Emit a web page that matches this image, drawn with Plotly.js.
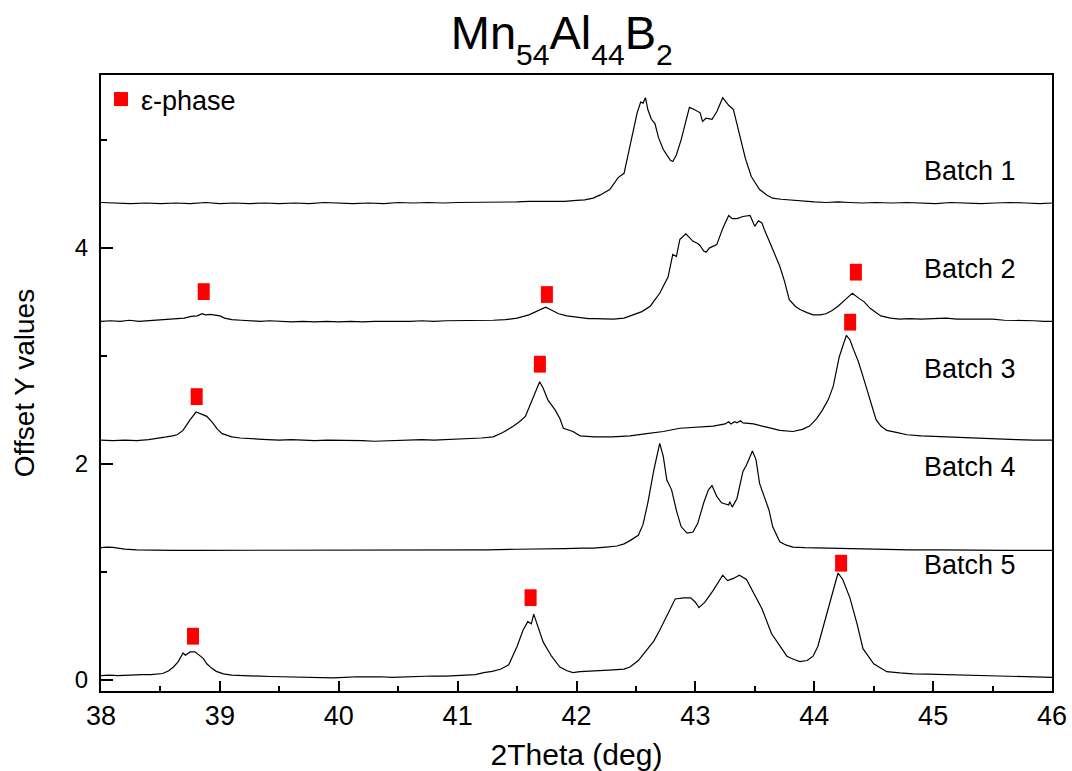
<!DOCTYPE html>
<html>
<head>
<meta charset="utf-8">
<script src="https://cdn.plot.ly/plotly-3.0.1.min.js"></script>
<style>html,body{margin:0;padding:0;background:#fff;}#chart{width:1072px;height:771px;}</style>
</head>
<body>
<div id="chart"></div>
<script>
// ---- data ----
const batchNames = ["Batch 1", "Batch 2", "Batch 3", "Batch 4", "Batch 5"];

const b1x = [38.0,38.12,38.25,38.38,38.5,38.63,38.75,38.88,39.0,39.12,39.25,39.38,39.5,39.63,39.75,39.88,40.0,40.12,40.25,40.38,40.5,40.63,40.75,40.88,41.0,41.12,41.25,41.38,41.5,41.6,41.7,41.8,41.9,42.0,42.07,42.14,42.2,42.28,42.35,42.4,42.45,42.51,42.54,42.56,42.58,42.6,42.63,42.66,42.69,42.73,42.76,42.79,42.81,42.84,42.88,42.91,42.95,42.99,43.04,43.06,43.09,43.14,43.18,43.23,43.28,43.32,43.36,43.42,43.47,43.54,43.6,43.65,43.72,43.82,43.92,44.0,44.1,44.2,44.3,44.4,44.52,44.65,44.78,44.9,45.02,45.15,45.28,45.4,45.52,45.65,45.78,45.9,46.0];
const b1y = [4.42,4.415,4.41,4.415,4.41,4.415,4.41,4.42,4.41,4.415,4.41,4.415,4.41,4.415,4.41,4.42,4.415,4.41,4.415,4.41,4.42,4.415,4.42,4.415,4.42,4.42,4.425,4.42,4.425,4.43,4.43,4.435,4.43,4.44,4.445,4.46,4.49,4.54,4.65,4.69,4.94,5.25,5.35,5.34,5.39,5.28,5.19,5.15,5.02,4.91,4.86,4.81,4.8,4.86,5.0,5.14,5.3,5.28,5.25,5.17,5.2,5.19,5.26,5.39,5.32,5.28,5.09,4.83,4.66,4.54,4.49,4.46,4.45,4.44,4.43,4.425,4.42,4.425,4.42,4.415,4.42,4.415,4.42,4.415,4.41,4.42,4.415,4.41,4.415,4.42,4.415,4.41,4.415];

const b2x = [38.0,38.08,38.16,38.24,38.32,38.4,38.48,38.56,38.64,38.7,38.76,38.81,38.85,38.88,38.92,38.96,39.0,39.04,39.1,39.18,39.26,39.34,39.42,39.5,39.6,39.7,39.8,39.9,40.0,40.1,40.2,40.3,40.4,40.5,40.6,40.7,40.8,40.9,41.0,41.1,41.2,41.3,41.4,41.5,41.6,41.66,41.7,41.74,41.78,41.82,41.85,41.92,41.98,42.03,42.1,42.15,42.22,42.31,42.4,42.48,42.55,42.62,42.7,42.77,42.81,42.84,42.87,42.92,42.95,42.98,43.02,43.04,43.07,43.09,43.12,43.18,43.23,43.28,43.31,43.35,43.4,43.46,43.5,43.53,43.56,43.58,43.63,43.71,43.75,43.79,43.84,43.88,43.94,43.99,44.05,44.1,44.15,44.2,44.27,44.32,44.38,44.42,44.47,44.52,44.56,44.64,44.72,44.8,44.9,45.0,45.11,45.2,45.3,45.4,45.5,45.6,45.67,45.76,45.85,45.93,46.0];
const b2y = [3.32,3.325,3.32,3.33,3.32,3.325,3.33,3.335,3.345,3.35,3.365,3.37,3.39,3.38,3.385,3.375,3.37,3.35,3.335,3.33,3.325,3.32,3.325,3.32,3.315,3.32,3.315,3.32,3.315,3.32,3.315,3.32,3.32,3.315,3.32,3.325,3.32,3.325,3.325,3.33,3.325,3.33,3.335,3.35,3.38,3.41,3.43,3.45,3.43,3.41,3.39,3.37,3.36,3.35,3.345,3.345,3.34,3.34,3.35,3.38,3.41,3.46,3.58,3.73,3.94,3.92,4.08,4.13,4.09,4.06,4.04,4.02,3.97,3.96,4.0,4.03,4.18,4.3,4.27,4.27,4.29,4.3,4.2,4.25,4.23,4.17,4.04,3.83,3.69,3.52,3.46,3.43,3.4,3.38,3.38,3.39,3.42,3.46,3.53,3.58,3.53,3.5,3.44,3.4,3.37,3.35,3.34,3.345,3.34,3.345,3.35,3.34,3.34,3.335,3.34,3.33,3.33,3.325,3.325,3.32,3.32];

const b3x = [38.0,38.1,38.2,38.3,38.4,38.48,38.55,38.6,38.64,38.69,38.75,38.8,38.84,38.89,38.94,38.98,39.02,39.1,39.17,39.28,39.4,39.5,39.6,39.7,39.8,39.9,40.0,40.1,40.2,40.3,40.4,40.5,40.6,40.7,40.8,40.9,41.0,41.1,41.2,41.3,41.38,41.47,41.52,41.57,41.64,41.69,41.72,41.76,41.82,41.86,41.89,41.97,42.03,42.15,42.3,42.45,42.59,42.73,42.87,43.0,43.15,43.25,43.28,43.3,43.33,43.35,43.38,43.4,43.49,43.6,43.71,43.82,43.9,43.96,44.02,44.07,44.12,44.16,44.21,44.27,44.3,44.33,44.37,44.41,44.47,44.52,44.56,44.61,44.7,44.78,44.9,45.0,45.11,45.25,45.4,45.55,45.7,45.85,46.0];
const b3y = [2.22,2.215,2.22,2.215,2.225,2.235,2.25,2.26,2.27,2.31,2.41,2.48,2.46,2.44,2.38,2.32,2.28,2.25,2.24,2.23,2.225,2.22,2.225,2.22,2.215,2.22,2.22,2.215,2.215,2.21,2.215,2.22,2.22,2.225,2.22,2.225,2.23,2.23,2.24,2.25,2.29,2.35,2.39,2.44,2.62,2.76,2.7,2.59,2.5,2.42,2.33,2.3,2.26,2.25,2.25,2.26,2.28,2.3,2.33,2.34,2.35,2.37,2.39,2.37,2.39,2.38,2.4,2.38,2.37,2.34,2.31,2.3,2.32,2.35,2.42,2.5,2.6,2.72,2.99,3.19,3.15,3.06,2.95,2.81,2.59,2.41,2.35,2.31,2.29,2.27,2.26,2.255,2.25,2.245,2.24,2.23,2.225,2.22,2.22];

const b4x = [38.0,38.05,38.1,38.15,38.2,38.3,38.45,38.6,38.8,39.0,39.25,39.5,39.75,40.0,40.25,40.5,40.75,41.0,41.25,41.5,41.7,41.9,42.05,42.14,42.25,42.34,42.4,42.45,42.52,42.56,42.6,42.65,42.7,42.73,42.76,42.8,42.84,42.88,42.93,42.98,43.02,43.07,43.11,43.14,43.18,43.22,43.28,43.29,43.31,43.35,43.4,43.43,43.48,43.51,43.54,43.58,43.62,43.65,43.71,43.76,43.82,43.92,44.1,44.38,44.6,44.8,45.05,45.3,45.6,46.0];
const b4y = [1.225,1.23,1.228,1.22,1.212,1.205,1.2,1.2,1.2,1.2,1.2,1.2,1.2,1.2,1.2,1.205,1.2,1.205,1.205,1.21,1.21,1.215,1.22,1.22,1.23,1.24,1.26,1.29,1.34,1.44,1.64,1.94,2.19,2.07,1.85,1.76,1.57,1.42,1.36,1.37,1.45,1.64,1.76,1.8,1.7,1.64,1.62,1.65,1.6,1.68,1.93,1.99,2.12,2.04,1.82,1.7,1.57,1.42,1.28,1.25,1.23,1.225,1.22,1.21,1.21,1.205,1.205,1.2,1.2,1.2];

const b5x = [38.0,38.07,38.14,38.21,38.28,38.35,38.42,38.48,38.52,38.57,38.61,38.65,38.69,38.71,38.75,38.79,38.83,38.86,38.89,38.93,38.97,39.03,39.1,39.18,39.26,39.34,39.42,39.5,39.6,39.7,39.8,39.9,39.95,40.05,40.15,40.25,40.35,40.45,40.55,40.65,40.79,40.9,41.0,41.08,41.15,41.22,41.29,41.36,41.43,41.5,41.55,41.59,41.62,41.64,41.68,41.72,41.79,41.86,41.92,41.97,42.03,42.1,42.2,42.31,42.4,42.45,42.52,42.59,42.65,42.7,42.76,42.83,42.9,42.96,43.0,43.03,43.08,43.15,43.23,43.27,43.32,43.37,43.43,43.49,43.56,43.64,43.71,43.77,43.83,43.88,43.94,43.99,44.03,44.1,44.16,44.2,44.24,44.27,44.3,44.36,44.41,44.5,44.61,44.72,44.83,44.95,45.1,45.25,45.39,45.55,45.7,45.85,46.0];
const b5y = [0.04,0.045,0.04,0.045,0.045,0.05,0.05,0.055,0.06,0.085,0.12,0.17,0.25,0.23,0.26,0.26,0.23,0.2,0.15,0.11,0.08,0.056,0.045,0.04,0.038,0.035,0.032,0.03,0.03,0.025,0.027,0.02,0.02,0.025,0.03,0.028,0.03,0.025,0.03,0.033,0.037,0.035,0.04,0.046,0.05,0.068,0.08,0.099,0.14,0.31,0.46,0.54,0.52,0.61,0.49,0.35,0.22,0.12,0.085,0.068,0.077,0.08,0.085,0.093,0.1,0.12,0.18,0.28,0.36,0.46,0.6,0.75,0.76,0.76,0.72,0.67,0.72,0.83,0.97,0.92,0.94,0.97,0.93,0.8,0.66,0.43,0.31,0.22,0.19,0.17,0.18,0.22,0.31,0.59,0.83,0.99,0.93,0.85,0.76,0.52,0.29,0.15,0.077,0.065,0.056,0.055,0.05,0.045,0.037,0.035,0.03,0.028,0.025];

// epsilon-phase markers
const epsX = [38.864,41.751,44.350,38.805,41.692,44.302,38.774,41.614,44.226];
const epsY = [3.595,3.568,3.775,2.623,2.923,3.312,0.405,0.762,1.081];

const xTicks = [38,39,40,41,42,43,44,45,46];
const yTicks = [0,2,4];

// ---- build ----
const FONT = "Liberation Sans, Arial, sans-serif";
const xs = [b1x,b2x,b3x,b4x,b5x];
const ys = [b1y,b2y,b3y,b4y,b5y];
const traces = xs.map((x,i)=>({
  x: x, y: ys[i], type:'scatter', mode:'lines', name: batchNames[i],
  line:{color:'#000', width:1.2}, showlegend:false, hoverinfo:'skip'
}));
traces.push({
  x: epsX, y: epsY, type:'scatter', mode:'markers', name:'ε-phase', showlegend:false,
  marker:{symbol:'line-ns', size:12, color:'#ff0000', line:{color:'#ff0000', width:12}}
});
traces.push({
  x:[null], y:[null], type:'scatter', mode:'markers', name:'ε-phase', showlegend:true,
  marker:{symbol:'square', size:14, color:'#ff0000'}
});

// label y positions (offset levels of each curve label)
const labelLevels = [4.71, 3.80, 2.88, 1.97, 1.06];
const annotations = batchNames.map((n,i)=>({
  x: 44.905, y: labelLevels[i], xref:'x', yref:'y', text:n, showarrow:false,
  xanchor:'left', yanchor:'middle', font:{family:FONT, size:27, color:'#000'}
}));

const layout = {
  width:1072, height:771,
  margin:{l:101, r:20, t:75, b:80},
  paper_bgcolor:'#fff', plot_bgcolor:'#fff',
  font:{family:FONT, color:'#000'},
  title:{
    text:'Mn<span style="font-size:30px;baseline-shift:-16px">54</span>Al<span style="font-size:30px;baseline-shift:-16px">44</span>B<span style="font-size:30px;baseline-shift:-16px">2</span>',
    font:{family:FONT, size:47, color:'#000'},
    x:0.524, xref:'container', xanchor:'center', y:0.958, yref:'container', yanchor:'middle'
  },
  xaxis:{
    range:[38,46], tickvals:xTicks, ticktext:xTicks.map(String),
    ticks:'inside', ticklen:10, tickwidth:2, tickcolor:'#000',
    minor:{dtick:0.5, tick0:38, ticks:'inside', ticklen:5, tickwidth:2, tickcolor:'#000', showgrid:false},
    showline:true, linewidth:2, linecolor:'#000', mirror:true,
    showgrid:false, zeroline:false,
    tickfont:{family:FONT, size:27, color:'#000'},
    title:{text:'<span style="baseline-shift:-8px">2Theta (deg)</span>', font:{family:FONT, size:30, color:'#000'}}
  },
  yaxis:{
    range:[-0.102, 5.60], tickvals:yTicks, ticktext:yTicks.map(String),
    ticks:'inside', ticklen:12, tickwidth:2, tickcolor:'#000',
    ticklabelstandoff:6,
    minor:{dtick:1, tick0:0, ticks:'inside', ticklen:6, tickwidth:2, tickcolor:'#000', showgrid:false},
    showline:true, linewidth:2, linecolor:'#000', mirror:true,
    showgrid:false, zeroline:false,
    tickfont:{family:FONT, size:24, color:'#000'},
    title:{text:'Offset Y values', font:{family:FONT, size:28, color:'#000'}}
  },
  legend:{x:0, y:1, xanchor:'left', yanchor:'top', bgcolor:'rgba(0,0,0,0)', borderwidth:0,
    font:{family:FONT, size:27, color:'#000'}},
  annotations: annotations
};
Plotly.newPlot('chart', traces, layout, {displayModeBar:false, staticPlot:true});
</script>
</body>
</html>
